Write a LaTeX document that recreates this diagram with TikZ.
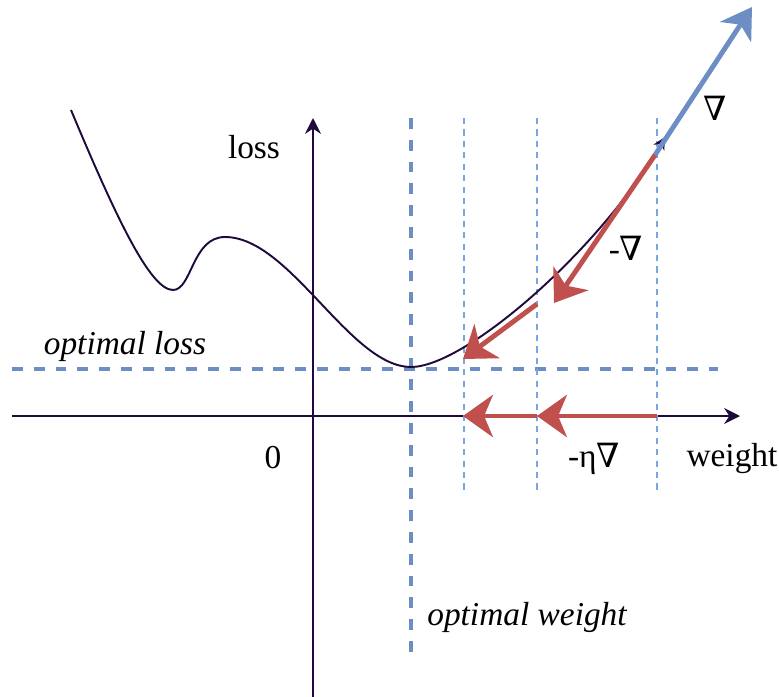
\documentclass[tikz,border=0pt]{standalone}
\usepackage{fontspec}
\setmainfont{Liberation Serif}
\newfontfamily\labelfont{Liberation Serif}
\newfontfamily\symfont{DejaVu Serif}
\usetikzlibrary{arrows.meta}

\definecolor{curvecol}{RGB}{30,10,60}
\definecolor{optblue}{RGB}{108,142,196}
\definecolor{stepblue}{RGB}{122,166,224}
\definecolor{gradred}{RGB}{192,80,77}

\newcommand{\nab}{{\symfont ∇}}

\begin{document}
\begin{tikzpicture}[
  x=0.02cm, y=-0.02cm,
  axis/.style={
    draw=curvecol,
    line width=0.9pt,
    -{Stealth[length=9pt,width=9pt]}
  },
  optline/.style={
    draw=optblue,
    line width=1.8pt,
    dash pattern=on 6.2pt off 6.2pt
  },
  stepline/.style={
    draw=stepblue,
    line width=0.9pt,
    dash pattern=on 3.5pt off 3pt
  },
  gradarrow/.style={
    draw=optblue,
    line width=2.8pt,
    -{Stealth[length=17pt,width=21pt,inset=5pt]}
  },
  steparrow/.style={
    draw=gradred,
    line width=2.8pt,
    -{Stealth[length=17pt,width=24pt,inset=5pt]}
  },
  lbl/.style={
    font=\labelfont\fontsize{19}{23}\selectfont,
    inner sep=0pt,
    anchor=base
  }
]
\useasboundingbox (0,0) rectangle (779,697);

% axes
\coordinate (xstart) at (12,416);
\coordinate (xend) at (740,416);
\coordinate (ystart) at (313,697);
\coordinate (yend) at (313,118);
\draw[axis] (xstart) -- (xend);
\draw[axis] (ystart) -- (yend);

% optimum guides
\coordinate (lossl) at (12,369);
\coordinate (lossr) at (718,369);
\coordinate (wtop) at (411,118);
\coordinate (wbot) at (411,658);
\draw[optline] (lossl) -- (lossr);
\draw[optline] (wtop) -- (wbot);

% step guides
\foreach \sx in {464,537,657}
  \draw[stepline] (\sx,118) -- (\sx,492);

% loss curve
\draw[curvecol, line width=1.1pt, -{Stealth[length=7pt,width=7pt]}]
  (71,110) .. controls (115,215) and (150,290) .. (173,290)
  .. controls (192,290) and (192,237) .. (225,237)
  .. controls (290,237) and (350,367) .. (411,367)
  .. controls (465,367) and (600,250) .. (665,137);

% gradient and steps
\coordinate (g0) at (655,155);
\coordinate (gtip) at (752,7);
\coordinate (g1tip) at (554,303);
\coordinate (g1) at (537,304);
\coordinate (g2tip) at (463,359);
\coordinate (a0) at (657,416);
\coordinate (a1) at (537,416);
\coordinate (a2) at (463,416);
\draw[steparrow] (g0) -- (g1tip);
\draw[steparrow] (g1) -- (g2tip);
\draw[gradarrow] (g0) -- (gtip);
\draw[steparrow] (a0) -- (a1);
\draw[steparrow] (a1) -- (a2);

% labels
\node[lbl] (losslbl) at (254,158) {loss};
\node[lbl] (zerolbl) at (273,468) {0};
\node[lbl] (weightlbl) at (732,466) {weight};
\node[lbl] (steplbl) at (594,467) {-η\nab};
\node[lbl] (optlosslbl) at (125,354) {\itshape optimal loss};
\node[lbl] (optwlbl) at (527,625) {\itshape optimal weight};
\node[lbl] (gradlbl) at (715,120) {\nab};
\node[lbl] (neglbl) at (626,260) {-\nab};
\end{tikzpicture}
\end{document}
